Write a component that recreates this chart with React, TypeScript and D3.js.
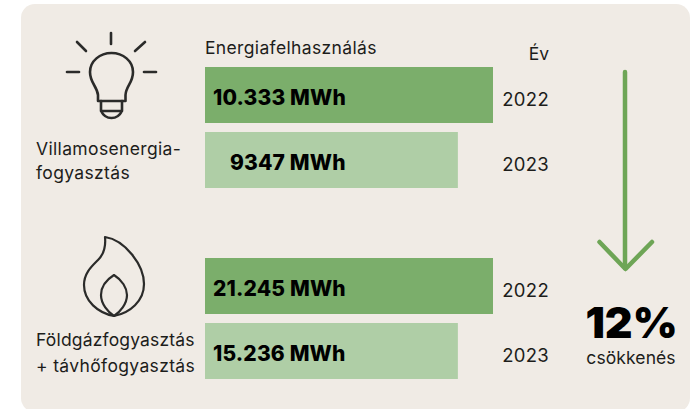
import React from "react";
import * as d3 from "d3";

const years = ["2022", "2023", "2022", "2023"];
const valueLabels = ["10.333 MWh", "9347 MWh", "21.245 MWh", "15.236 MWh"];
const barLengths = [1, 0.878, 1, 0.878];
const rowKeys = ["e22", "e23", "g22", "g23"];
const barColors = ["#7bae6b", "#afcea6", "#7bae6b", "#afcea6"];

const font = "Inter, 'Noto Sans', sans-serif";
const ink = "#1d1d1b";

const x = d3.scaleLinear().domain([0, 1]).range([205, 493]);
const rowY: Record<string, number> = { e22: 67, e23: 132, g22: 258, g23: 323 };
const rowH = 56;
const line = d3.line();

export default function App() {
  return (
    <svg width={695} height={409} style={{ position: "absolute", left: 0, top: 0 }} fontFamily={font}>
      <rect x={21} y={4} width={669} height={408} rx={14} fill="#f0ebe5" />
      <text x={205} y={54} fontSize={17.500} letterSpacing={0.35} fill={ink}>Energiafelhasználás</text>
      <text x={549} y={60} fontSize={17.500} fill={ink} textAnchor="end">Év</text>

      {rowKeys.map((k, i) => (
        <g key={k}>
          <rect x={x(0)} y={rowY[k]} width={x(barLengths[i]) - x(0)} height={rowH} fill={barColors[i]} />
          <text x={k === "e23" ? 230 : 213} y={rowY[k] + 37.500} fontSize={21} fontWeight={800} letterSpacing={0.15} fill="#000">{valueLabels[i]}</text>
          <text x={549} y={rowY[k] + 38.500} fontSize={18.500} letterSpacing={0.3} fill={ink} textAnchor="end">{years[i]}</text>
        </g>
      ))}

      <g fontSize={17.500} fill={ink}>
        <text x={36} y={155} letterSpacing={0.35}>Villamosenergia-</text>
        <text x={36} y={179} letterSpacing={0.35}>fogyasztás</text>
        <text x={36} y={346} letterSpacing={0.17}>Földgázfogyasztás</text>
        <text x={36} y={372} letterSpacing={0.35}>+ távhőfogyasztás</text>
      </g>

      <g fill="none" stroke="#2b2b2a" strokeWidth={2.600} strokeLinecap="round" strokeLinejoin="round">
        {[[[111, 33], [111, 44]], [[77, 42], [86, 51]], [[145, 42], [135, 51]], [[67, 72], [79, 72]], [[144, 72], [156, 72]]].map((p, i) => (
          <path key={i} d={line(p as [number, number][]) as string} />
        ))}
        <path d="M98 101 L98 95 C97 86 90 83 90 72 C90 61 100 53 111.500 53 C123 53 133 61 133 72 C133 83 126 86 125.500 95 L125.500 101 Z" />
        <path d="M101 101 L101 111 C103 115 107 118 111.500 118 C116 118 120 115 122 111 L122 101 M101 111 L122 111" />
      </g>

      <g fill="none" stroke="#2b2b2a" strokeWidth={2.200} strokeLinejoin="round">
        <path d="M105 237 C125 240 144 265 144 284 C144 301 130 313 114 316 C98 313 84 301 84 285 C84 273 92 266 98 260 C104 254 106 247 105 237 Z" />
        <path d="M114 275 C122 280 127 288 127 295 C127 304 120 312 114 316 C108 312 101 304 101 295 C101 287 106 280 114 275 Z" />
      </g>

      <g fill="none" stroke="#6ea556" strokeWidth={4.500} strokeLinecap="round" strokeLinejoin="round">
        <path d={line([[625, 72], [625, 268]]) as string} />
        <path d={line([[599.500, 242], [625.500, 269], [652, 242]]) as string} />
      </g>

      <text x={631.500} y={338} fontSize={43} fontWeight={900} fill="#000" textAnchor="middle">12%</text>
      <text x={631} y={364} fontSize={17.500} letterSpacing={0.1} fill={ink} textAnchor="middle">csökkenés</text>
    </svg>
  );
}
